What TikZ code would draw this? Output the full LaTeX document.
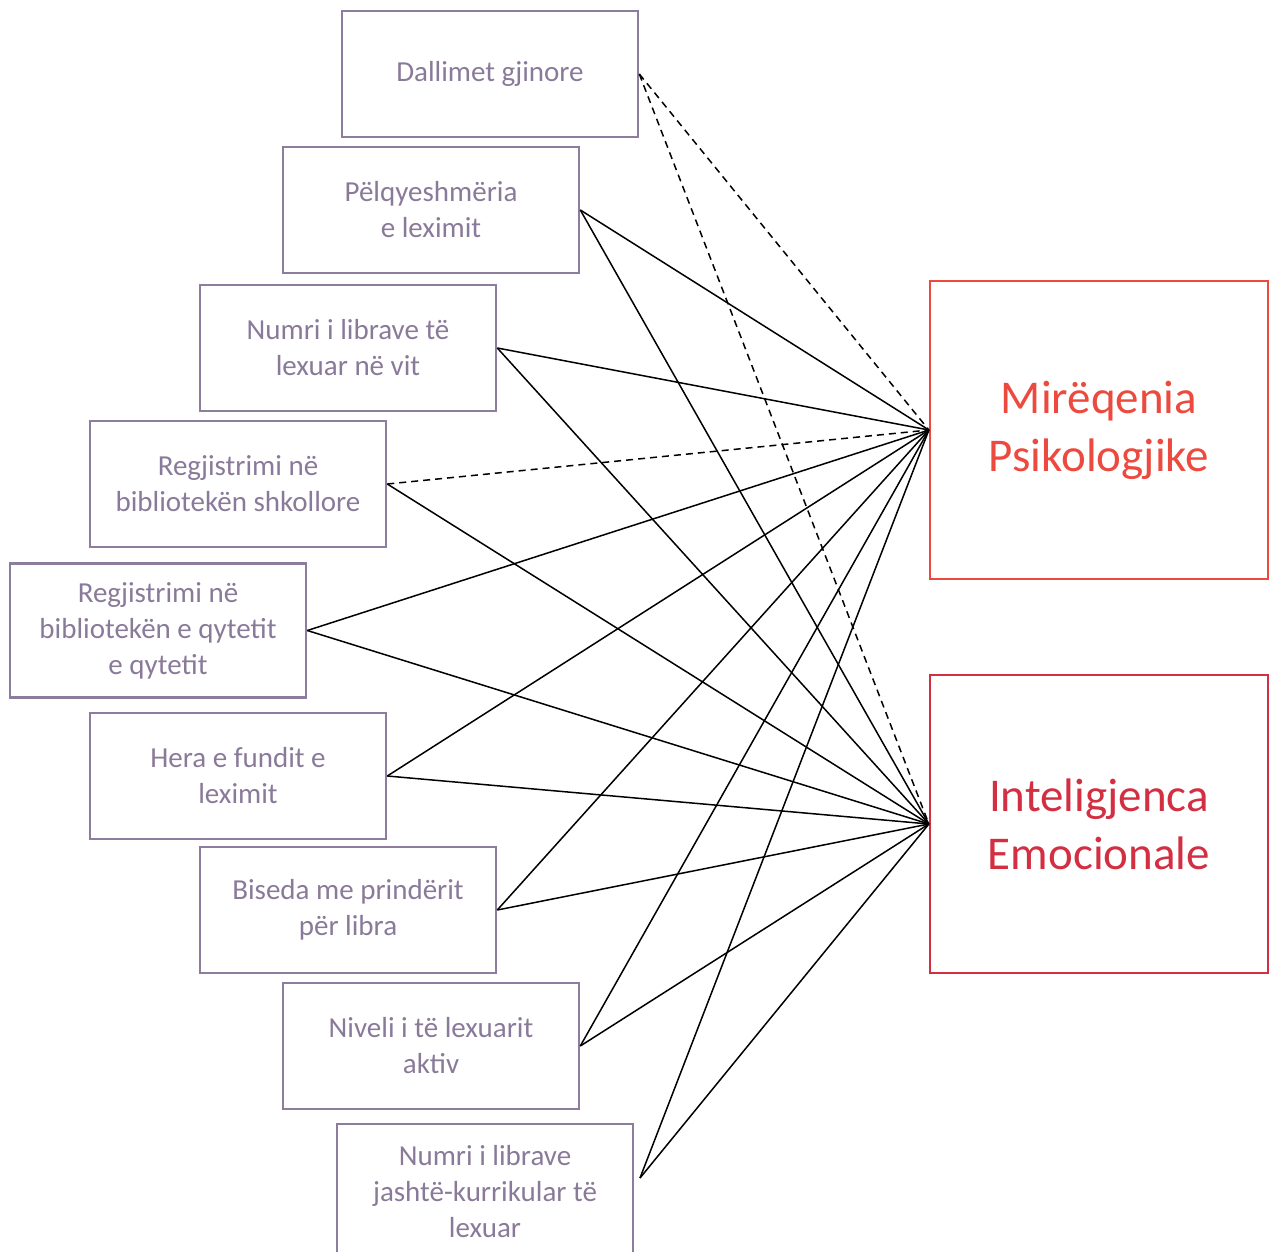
\documentclass[tikz,border=0pt]{standalone}
\usepackage{fontspec}
\setmainfont{Carlito}
\definecolor{boxpurple}{HTML}{8E7C9C}
\definecolor{txtpurple}{HTML}{8A7A99}
\definecolor{mpred}{HTML}{EC4A3E}
\definecolor{eired}{HTML}{D32F42}
\begin{document}
\begin{tikzpicture}[x=1pt,y=-1pt,
  leftbox/.style={draw=boxpurple, line width=2.6pt, minimum width=296pt, minimum height=126pt,
    inner sep=0pt, text=txtpurple, align=center,
    font=\fontsize{29}{36}\selectfont},
  rightbox/.style={line width=2.2pt, minimum width=338pt, minimum height=298pt,
    inner sep=0pt, align=center, font=\fontsize{47}{58}\selectfont},
  conn/.style={line width=1.5pt, black},
  dconn/.style={line width=1.5pt, black, dash pattern=on 7pt off 5pt}]
\useasboundingbox (0,0) rectangle (1271,1252);
\node[leftbox] (n1) at (490,74) {Dallimet gjinore};
\node[leftbox] (n2) at (431,210) {Pëlqyeshmëria\\e leximit};
\node[leftbox] (n3) at (348,348) {Numri i librave të\\lexuar në vit};
\node[leftbox] (n4) at (238,484) {Regjistrimi në\\bibliotekën shkollore};
\node[leftbox, minimum height=134pt] (n5) at (158,630.5) {Regjistrimi në\\bibliotekën e qytetit\\e qytetit};
\node[leftbox] (n6) at (238,776) {Hera e fundit e\\leximit};
\node[leftbox] (n7) at (348,910) {Biseda me prindërit\\për libra};
\node[leftbox] (n8) at (431,1046) {Niveli i të lexuarit\\aktiv};
\node[leftbox, minimum height=136pt] (n9) at (485,1192) {Numri i librave\\jashtë-kurrikular të\\lexuar};
\coordinate (c9) at (640,1178);
\node[rightbox, draw=mpred, text=mpred] (mp) at (1099,430) {Mirëqenia\\Psikologjike};
\node[rightbox, draw=eired, text=eired] (ei) at (1099,824) {Inteligjenca\\Emocionale};
% connectors
\draw[dconn] (n1.east) -- (mp.west);
\draw[dconn] (n1.east) -- (ei.west);
\draw[conn] (n2.east) -- (mp.west);
\draw[conn] (n2.east) -- (ei.west);
\draw[conn] (n3.east) -- (mp.west);
\draw[conn] (n3.east) -- (ei.west);
\draw[dconn] (n4.east) -- (mp.west);
\draw[conn] (n4.east) -- (ei.west);
\draw[conn] (n5.east) -- (mp.west);
\draw[conn] (n5.east) -- (ei.west);
\draw[conn] (n6.east) -- (mp.west);
\draw[conn] (n6.east) -- (ei.west);
\draw[conn] (n7.east) -- (mp.west);
\draw[conn] (n7.east) -- (ei.west);
\draw[conn] (n8.east) -- (mp.west);
\draw[conn] (n8.east) -- (ei.west);
\draw[conn] (c9) -- (mp.west);
\draw[conn] (c9) -- (ei.west);
\end{tikzpicture}
\end{document}
